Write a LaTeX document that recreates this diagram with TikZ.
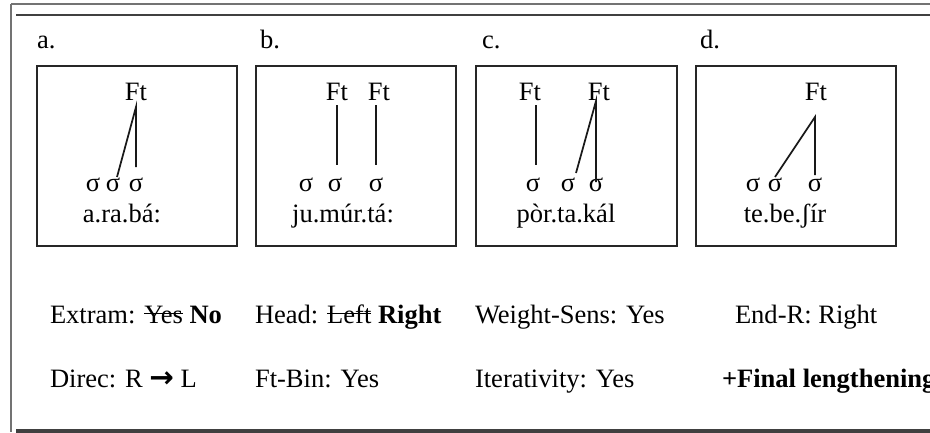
\documentclass[tikz,border=0pt]{standalone}
\usepackage{fontspec}
\setmainfont{Liberation Serif}
\newfontfamily\arrowfont{DejaVu Sans}
\newcommand\mystrike[1]{\setbox0=\hbox{#1}\rlap{\rule[0.33em]{\wd0}{0.05em}}\box0\relax}
\begin{document}
\begin{tikzpicture}[x=0.75pt,y=-0.75pt,
  every node/.style={inner sep=0pt,outer sep=0pt,font=\fontsize{19.9}{24}\selectfont},
  txt/.style={anchor=base},
  lbl/.style={anchor=base west},
  boxline/.style={draw=black!85,line width=1.5pt},
  tree/.style={draw=black!90,line width=1.3pt},
  frameg/.style={draw=black!55,line width=1.4pt},
  framed/.style={draw=black!75,line width=2pt}]
\useasboundingbox (0,0) rectangle (930,432);
\clip (0,0) rectangle (930,432);
% frame
\draw[frameg] (11,4) -- (11,432);
\draw[frameg,line width=1.1pt] (11,4) -- (930,4);
\draw[framed] (16,15) -- (930,15);
\draw[framed,line width=2.3pt] (16,431) -- (930,431);
% boxes
\draw[boxline] (37,66) rectangle (237,246);
\draw[boxline] (256,66) rectangle (456,246);
\draw[boxline] (476,66) rectangle (677,246);
\draw[boxline] (696,66) rectangle (896,246);
% labels
\node[lbl] (la) at (37,48) {a.};
\node[lbl] (lb) at (260,48) {b.};
\node[lbl] (lc) at (482,48) {c.};
\node[lbl] (ld) at (700,48) {d.};
% box a
\node[txt] (aF) at (136,100) {Ft};
\node[txt] (aS1) at (93,191) {σ};
\node[txt] (aS2) at (113,191) {σ};
\node[txt] (aS3) at (136,191) {σ};
\node[txt] (aW) at (122,222) {a.ra.bá:};
\coordinate (aT) at (136,107);
\coordinate (aE2) at (117,177);
\coordinate (aE3) at (136,167);
\draw[tree] (aE2) -- (aT) -- (aE3);
% box b
\node[txt] (bF1) at (337,100) {Ft};
\node[txt] (bF2) at (379,100) {Ft};
\node[txt] (bS1) at (306,191) {σ};
\node[txt] (bS2) at (335,191) {σ};
\node[txt] (bS3) at (376,191) {σ};
\node[txt] (bW) at (343,222) {ju.múr.tá:};
\coordinate (bT1) at (337,105);
\coordinate (bE1) at (337,165);
\coordinate (bT2) at (376,105);
\coordinate (bE2) at (376,165);
\draw[tree] (bT1) -- (bE1);
\draw[tree] (bT2) -- (bE2);
% box c
\node[txt] (cF1) at (530,100) {Ft};
\node[txt] (cF2) at (599,100) {Ft};
\node[txt] (cS1) at (533,191) {σ};
\node[txt] (cS2) at (568,191) {σ};
\node[txt] (cS3) at (596,191) {σ};
\node[txt] (cW) at (566,222) {pòr.ta.kál};
\coordinate (cT1) at (536,105);
\coordinate (cE1) at (536,165);
\coordinate (cT2) at (596,101);
\coordinate (cE2) at (576,173);
\coordinate (cE3) at (596,182);
\draw[tree] (cT1) -- (cE1);
\draw[tree] (cE2) -- (cT2) -- (cE3);
% box d
\node[txt] (dF) at (816,100) {Ft};
\node[txt] (dS1) at (753,191) {σ};
\node[txt] (dS2) at (775,191) {σ};
\node[txt] (dS3) at (815,191) {σ};
\node[txt] (dW) at (785,222) {te.be.ʃír};
\coordinate (dT) at (815,117);
\coordinate (dE2) at (775,177);
\coordinate (dE3) at (815,175);
\draw[tree] (dE2) -- (dT) -- (dE3);
% parameter rows
\node[lbl] (p1) at (50,323) {Extram: \mystrike{Yes} \textbf{No}};
\node[lbl] (p2) at (255,323) {Head: \mystrike{Left} \textbf{Right}};
\node[lbl] (p3) at (475,323) {Weight-Sens: Yes};
\node[lbl] (p4) at (735,323) {End-R: Right};
\node[lbl] (q1) at (50,387) {Direc: R {\arrowfont\bfseries\fontsize{22}{24}\selectfont →} L};
\node[lbl] (q2) at (255,387) {Ft-Bin: Yes};
\node[lbl] (q3) at (475,387) {Iterativity: Yes};
\node[lbl] (q4) at (722,387) {\textbf{+Final lengthening}};
\end{tikzpicture}
\end{document}
